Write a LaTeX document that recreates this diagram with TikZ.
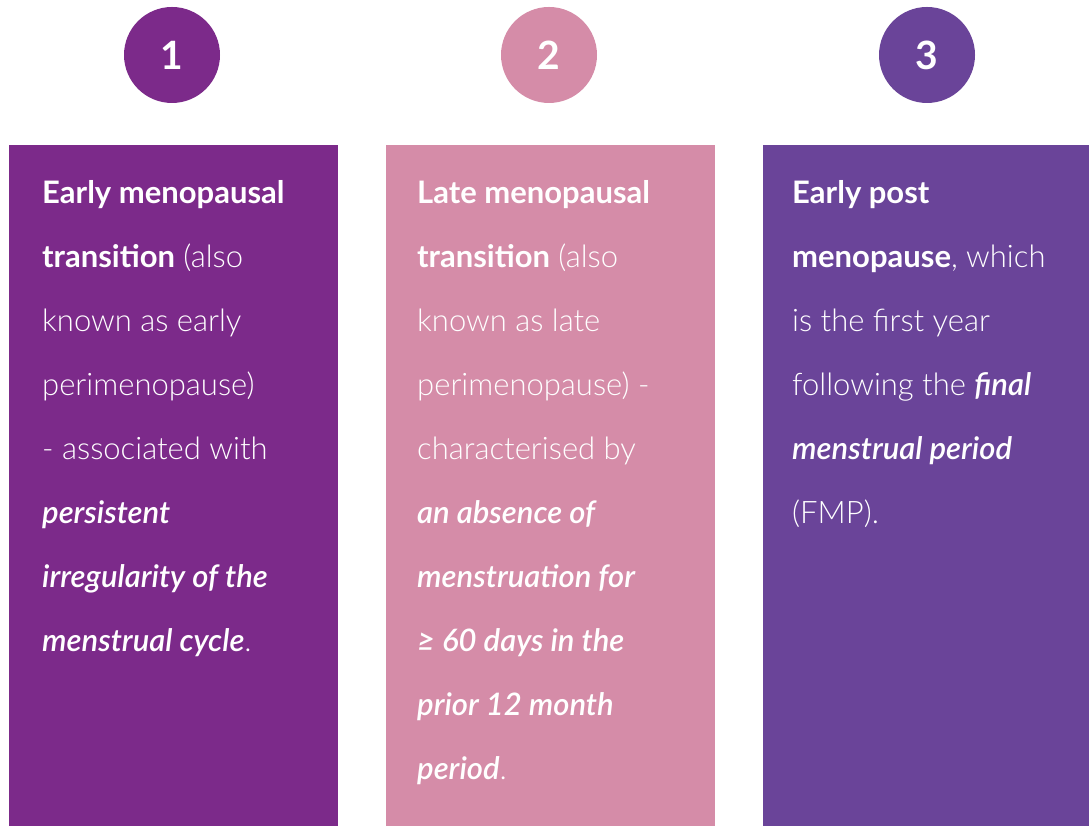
\documentclass[tikz,border=0pt]{standalone}
\usepackage{fontspec}
\setmainfont{Lato Light}[BoldFont=Lato Bold, ItalicFont=Lato Semibold Italic]
\usetikzlibrary{positioning}

\definecolor{earlypurple}{HTML}{7C2A8A}
\definecolor{latepink}{HTML}{D58CA8}
\definecolor{postviolet}{HTML}{6A4499}

\begin{document}
\begin{tikzpicture}[x=1pt,y=1pt]
\tikzstyle{phase}=[rectangle,fill=#1,minimum width=329pt,minimum height=681pt,inner sep=0pt]
\tikzstyle{num}=[circle,fill=#1,minimum size=96pt,inner sep=0pt,text=white,font=\fontsize{39}{42}\selectfont\bfseries]
\tikzstyle{desc}=[anchor=base west,inner sep=0pt,text=white,align=left,font=\fontsize{31}{64}\selectfont]
\useasboundingbox (0,0) rectangle (1089,826);

\node[num=earlypurple](n1) at (172,771) {1};
\node[num=latepink](n2) at (549,771) {2};
\node[num=postviolet](n3) at (927,771) {3};

\node[phase=earlypurple](box1) at (173.5,340.5) {};
\node[phase=latepink](box2) at (550.5,340.5) {};
\node[phase=postviolet](box3) at (927.5,340.5) {};

% base anchor sits on the last line
\node[desc](t1) at (42,174) {\textbf{Early menopausal}\\ \textbf{transition} (also\\ known as early\\ perimenopause)\\ - associated with\\ \textit{persistent}\\ \textit{irregularity of the}\\ \textit{menstrual cycle}.};
\node[desc](t2) at (417,46) {\textbf{Late menopausal}\\ \textbf{transition} (also\\ known as late\\ perimenopause) -\\ characterised by\\ \textit{an absence of}\\ \textit{menstruation for}\\ \textit{≥ 60 days in the}\\ \textit{prior 12 month}\\ \textit{period}.};
\node[desc](t3) at (792,302) {\textbf{Early post}\\ \textbf{menopause}, which\\ is the first year\\ following the \textit{final}\\ \textit{menstrual period}\\ (FMP).};
\end{tikzpicture}
\end{document}
